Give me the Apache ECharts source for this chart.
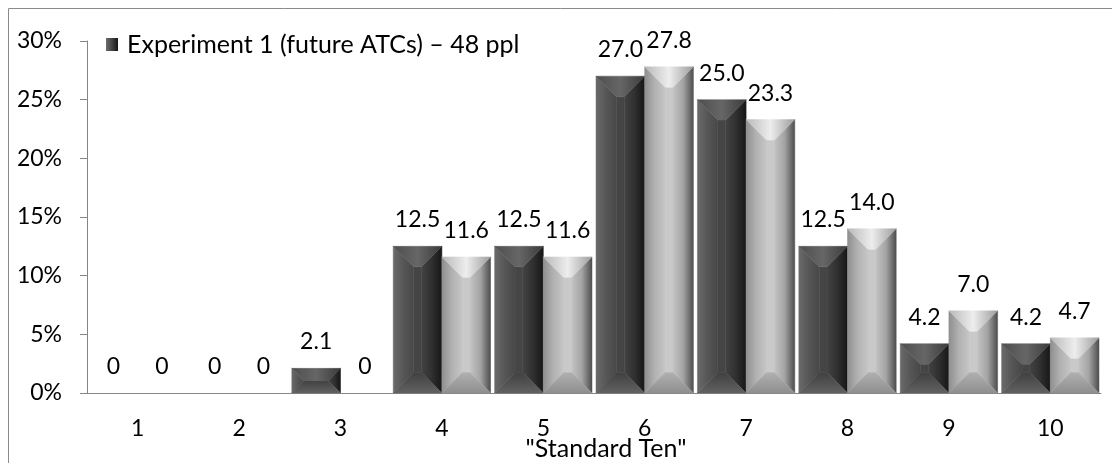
<!DOCTYPE html>
<html>
<head>
<meta charset="utf-8">
<script src="https://cdn.jsdelivr.net/npm/echarts@6/dist/echarts.min.js"></script>
<style>
html,body{margin:0;padding:0;background:#fff;}
#chart{width:1112px;height:463px;}
</style>
</head>
<body>
<div id="chart"></div>
<script>
const categories = ['1','2','3','4','5','6','7','8','9','10'];
const exp1Name = 'Experiment 1 (future ATCs) – 48 ppl';
const exp1Values = [0, 0, 2.1, 12.5, 12.5, 27.0, 25.0, 12.5, 4.2, 4.2];
const exp2Name = 'Experiment 2';
const exp2Values = [0, 0, 0, 11.6, 11.6, 27.8, 23.3, 14.0, 7.0, 4.7];
const yTicks = [0, 5, 10, 15, 20, 25, 30];
const xAxisTitle = '"Standard Ten"';

const FONT = 'Lato';
const G = echarts.graphic;
function hGrad(stops) { return new G.LinearGradient(0, 0, 1, 0, stops.map((c, i) => ({offset: i / (stops.length - 1), color: c}))); }
function vGrad(stops) { return new G.LinearGradient(0, 0, 0, 1, stops.map((c, i) => ({offset: i / (stops.length - 1), color: c}))); }

const palettes = [
  { // dark
    left: hGrad(['#6a6a6a', '#565656', '#474747']),
    center: '#454545',
    right: hGrad(['#434343', '#303030', '#161616']),
    top: hGrad(['#4e4e4e', '#666666', '#3a3a3a']),
    bottom: vGrad(['#404040', '#626262']),
    legend: hGrad(['#6c6c6c', '#444444', '#161616'])
  },
  { // light
    left: hGrad(['#8e8e8e', '#b2b2b2', '#c6c6c6']),
    center: '#c9c9c9',
    right: hGrad(['#c4c4c4', '#a4a4a4', '#4c4c4c']),
    top: hGrad(['#b8b8b8', '#ededed', '#9c9c9c']),
    bottom: vGrad(['#b0b0b0', '#8e8e8e']),
    legend: hGrad(['#8c8c8c', '#c9c9c9', '#4c4c4c'])
  }
];

const labelFmt = v => v === 0 ? '0' : v.toFixed(1);

function makeRender(seriesIdx) {
  const pal = palettes[seriesIdx];
  return function (params, api) {
    const cat = api.value(0), v = api.value(1);
    const base = api.coord([cat, 0]);
    const topPt = api.coord([cat, v]);
    const band = api.size([1, 0])[0];
    const bw = band * 0.96 / 2;
    const x0 = base[0] + (seriesIdx === 0 ? -bw : 0);
    const x1 = x0 + bw;
    const y1 = base[1];
    const y0 = topPt[1];
    const h = y1 - y0;
    const children = [];
    if (h > 0.5) {
      const t = Math.min(bw * 0.42, h / 2);
      const poly = (pts, fill) => children.push({type: 'polygon', shape: {points: pts}, style: {fill: fill, stroke: fill, lineWidth: 0.5}});
      poly([[x0 + t, y0 + t], [x1 - t, y0 + t], [x1 - t, y1 - t], [x0 + t, y1 - t]], pal.center);
      poly([[x0, y0], [x0 + t, y0 + t], [x0 + t, y1 - t], [x0, y1]], pal.left);
      poly([[x1, y0], [x1 - t, y0 + t], [x1 - t, y1 - t], [x1, y1]], pal.right);
      poly([[x0, y1], [x1, y1], [x1 - t, y1 - t], [x0 + t, y1 - t]], pal.bottom);
      poly([[x0, y0], [x1, y0], [x1 - t, y0 + t], [x0 + t, y0 + t]], pal.top);
    }
    children.push({
      type: 'text',
      style: {
        x: x0 + bw / 2, y: y0 - 15,
        text: labelFmt(v),
        align: 'center', verticalAlign: 'bottom',
        font: '23px ' + FONT, fill: '#000'
      }
    });
    return {type: 'group', children: children};
  };
}

const chart = echarts.init(document.getElementById('chart'), null, {renderer: 'canvas'});
chart.setOption({
  animation: false,
  backgroundColor: '#fff',
  textStyle: {fontFamily: FONT},
  graphic: [{
    type: 'rect',
    shape: {x: 8.5, y: 8.5, width: 1200, height: 600},
    style: {fill: 'none', stroke: '#8a8a8a', lineWidth: 1},
    silent: true, z: -1
  }],
  legend: {
    data: [{name: exp1Name}],
    left: 101, top: 27,
    icon: 'rect', itemWidth: 12, itemHeight: 13, itemGap: 5,
    textStyle: {fontFamily: FONT, fontSize: 25, color: '#000', padding: [0, 0, 0, 4]}
  },
  grid: {left: 87, right: 11, top: 41, bottom: 70, containLabel: false, outerBoundsMode: 'none'},
  xAxis: {
    type: 'category',
    data: categories,
    name: xAxisTitle,
    nameLocation: 'middle',
    nameGap: 43,
    nameMoveOverlap: false,
    nameTextStyle: {fontFamily: FONT, fontSize: 25, color: '#000', padding: [0, 0, 0, 24]},
    axisLine: {lineStyle: {color: '#868686', width: 1}},
    axisTick: {length: 7, lineStyle: {color: '#868686'}},
    axisLabel: {fontFamily: FONT, fontSize: 23, color: '#000', margin: 24}
  },
  yAxis: {
    type: 'value',
    min: yTicks[0], max: yTicks[yTicks.length - 1], interval: 5,
    axisLine: {show: true, lineStyle: {color: '#868686', width: 1}},
    axisTick: {show: true, length: 7, lineStyle: {color: '#868686'}},
    splitLine: {show: false},
    axisLabel: {fontFamily: FONT, fontSize: 23, color: '#000', margin: 25, formatter: '{value}%'}
  },
  series: [
    {
      name: exp1Name, type: 'custom',
      data: exp1Values.map((v, i) => [i, v]),
      encode: {x: 0, y: 1},
      itemStyle: {color: palettes[0].legend},
      renderItem: makeRender(0), clip: false
    },
    {
      name: exp2Name, type: 'custom',
      data: exp2Values.map((v, i) => [i, v]),
      encode: {x: 0, y: 1},
      itemStyle: {color: palettes[1].legend},
      renderItem: makeRender(1), clip: false
    }
  ]
});
</script>
</body>
</html>
